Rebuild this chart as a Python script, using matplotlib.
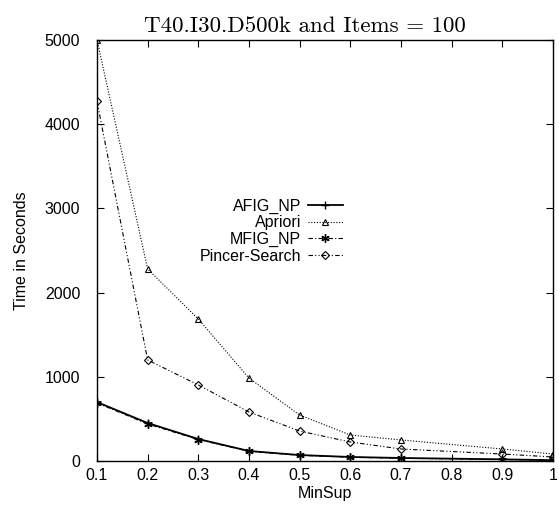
import matplotlib
matplotlib.use("Agg")
import matplotlib.pyplot as plt

plt.rcParams['font.family'] = ['Liberation Sans', 'DejaVu Sans']

minsup = [0.1, 0.2, 0.3, 0.4, 0.5, 0.6, 0.7, 0.9, 1.0]
afig_np = [700, 451, 261, 119, 71, 48, 36, 20, 10]
apriori = [5000, 2280, 1686, 985, 546, 309, 250, 143, 83]
mfig_np = [690, 440, 255, 115, 68, 45, 33, 18, 8]
pincer = [4270, 1200, 903, 582, 356, 226, 143, 83, 48]

xticks = [0.1, 0.2, 0.3, 0.4, 0.5, 0.6, 0.7, 0.8, 0.9, 1.0]
xticklabels = ['0.1', '0.2', '0.3', '0.4', '0.5', '0.6', '0.7', '0.8', '0.9', '1']
yticks = [0, 1000, 2000, 3000, 4000, 5000]

fig = plt.figure(figsize=(5.59, 5.18), dpi=100)
ax = fig.add_axes([0.1735, 0.110, 0.8155, 0.813])

ax.plot(minsup, afig_np, color='black', lw=1.3, ls='-', marker='+', ms=6, mew=1.0, label='AFIG_NP')
ax.plot(minsup, apriori, color='black', lw=0.8, ls=(0, (1, 1.5)), marker='^', ms=5, mfc='none', mew=0.8, label='Apriori')
ax.plot(minsup, mfig_np, color='black', lw=0.8, ls=(0, (4, 2, 1, 2)), marker=(6, 2, 0), ms=6, mew=1.0, label='MFIG_NP')
ax.plot(minsup, pincer, color='black', lw=0.8, ls=(0, (4, 2, 1, 2, 1, 2)), marker='D', ms=4, mfc='none', mew=0.8, label='Pincer-Search')

ax.set_xlim(0.1, 1.0)
ax.set_ylim(0, 5000)
ax.set_xticks(xticks)
ax.set_xticklabels(xticklabels)
ax.set_yticks(yticks)
ax.tick_params(direction='in', top=True, right=True, length=5, width=0.8, labelsize=11.5)
ax.tick_params(axis='x', pad=5)
ax.tick_params(axis='y', pad=12)
for s in ax.spines.values():
    s.set_linewidth(1.0)

ax.set_xlabel('MinSup', fontsize=11.5, labelpad=2)
ax.set_ylabel('Time in Seconds', fontsize=11.5, labelpad=11)
ax.set_title('T40.I30.D500k and Items = 100', fontsize=16.5, pad=6, x=0.456,
             fontfamily='cmr10')

leg = ax.legend(loc='upper right', bbox_to_anchor=(0.553, 0.638), frameon=False,
                markerfirst=False, fontsize=11.5, handlelength=2.2, labelspacing=0.1,
                handletextpad=0.4, borderaxespad=0)
for t in leg.get_texts():
    t.set_ha('right')
leg._legend_box.align = 'right'

fig.savefig('out.png', dpi=100)
